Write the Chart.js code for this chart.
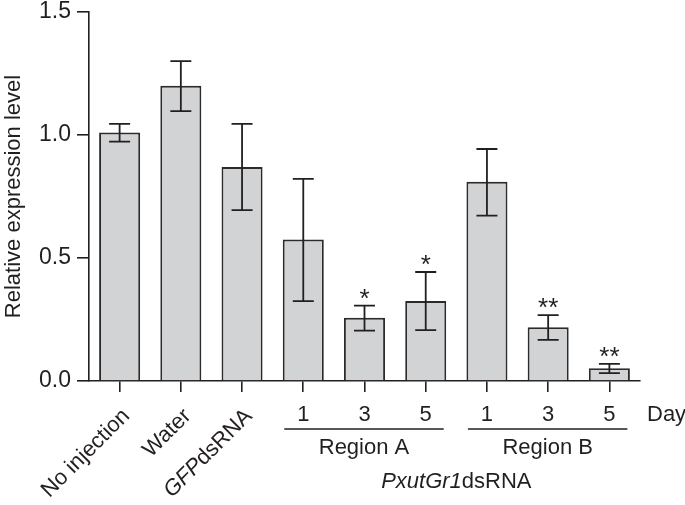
<!DOCTYPE html>
<html>
<head>
<meta charset="utf-8">
<script src="https://cdn.jsdelivr.net/npm/chart.js@4"></script>
<style>
  body { margin: 0; background: #fff; }
</style>
</head>
<body>
<canvas id="expr" width="685" height="505"></canvas>
<script>
// Data
const categories = ['No injection', 'Water', 'GFP dsRNA', '1', '3', '5', '1', '3', '5'];
const means   = [1.01, 1.20, 0.87, 0.575, 0.257, 0.325, 0.81, 0.218, 0.052];
const errHigh = [1.045, 1.30, 1.045, 0.822, 0.306, 0.443, 0.943, 0.268, 0.070];
const errLow  = [0.973, 1.097, 0.695, 0.325, 0.205, 0.207, 0.672, 0.167, 0.032];
const stars   = ['', '', '', '', '*', '*', '', '**', '**'];
const yTicks  = [0, 0.5, 1.0, 1.5];
const regionNames = ['Region A', 'Region B'];
const regionIdx   = [[3, 5], [6, 8]];

const ink = '#231f20';
const font = 'Liberation Sans, Arial, Helvetica, sans-serif';

// error bars + significance stars
const errorBars = {
  id: 'errorBars',
  afterDatasetsDraw(chart) {
    const { ctx, scales: { x, y } } = chart;
    ctx.save();
    ctx.strokeStyle = ink;
    ctx.lineWidth = 1.8;
    ctx.fillStyle = ink;
    ctx.font = '26px ' + font;
    ctx.textAlign = 'center';
    ctx.textBaseline = 'alphabetic';
    means.forEach((m, i) => {
      const cx = x.getPixelForValue(i);
      const hi = y.getPixelForValue(errHigh[i]);
      const lo = y.getPixelForValue(errLow[i]);
      ctx.beginPath();
      ctx.moveTo(cx, hi); ctx.lineTo(cx, lo);
      ctx.moveTo(cx - 10.5, hi); ctx.lineTo(cx + 10.5, hi);
      ctx.moveTo(cx - 10.5, lo); ctx.lineTo(cx + 10.5, lo);
      ctx.stroke();
      if (stars[i]) {
        ctx.fillText(stars[i], cx, hi + 1);
      }
    });
    ctx.restore();
  }
};

// category labels: rotated names, day numbers, region brackets
const xLabels = {
  id: 'xLabels',
  afterDraw(chart) {
    const { ctx, scales: { x } } = chart;
    const reg = '22px ' + font;
    const ita = 'italic 22px ' + font;
    ctx.save();
    ctx.fillStyle = ink;
    ctx.strokeStyle = ink;

    // rotated labels for the first three bars
    const rotated = [
      [[categories[0], reg]],
      [[categories[1], reg]],
      [['GFP', ita], ['dsRNA', reg]]
    ];
    rotated.forEach((parts, i) => {
      const cx = x.getPixelForValue(i);
      let total = 0;
      parts.forEach(([t, f]) => { ctx.font = f; total += ctx.measureText(t).width; });
      ctx.save();
      ctx.translate(cx - 1, 405);
      ctx.rotate(-Math.PI / 4);
      ctx.textAlign = 'left';
      ctx.textBaseline = 'top';
      let px = -total;
      parts.forEach(([t, f]) => {
        ctx.font = f;
        ctx.fillText(t, px, 0);
        px += ctx.measureText(t).width;
      });
      ctx.restore();
    });

    // day numbers
    ctx.font = reg;
    ctx.textBaseline = 'middle';
    ctx.textAlign = 'center';
    for (let i = 3; i < categories.length; i++) {
      ctx.fillText(categories[i], x.getPixelForValue(i), 415);
    }
    ctx.textAlign = 'left';
    ctx.fillText('Day', 647, 415);

    // region brackets
    ctx.lineWidth = 1.6;
    regionIdx.forEach(([a, b], k) => {
      const x0 = x.getPixelForValue(a) - 19;
      const x1 = x.getPixelForValue(b) + 18;
      ctx.beginPath();
      ctx.moveTo(x0, 429); ctx.lineTo(x1, 429);
      ctx.stroke();
      ctx.textAlign = 'center';
      ctx.fillText(regionNames[k], (x0 + x1) / 2, 448);
    });

    // PxutGr1dsRNA
    const mid = (x.getPixelForValue(3) + x.getPixelForValue(8)) / 2;
    ctx.font = ita;
    const w1 = ctx.measureText('PxutGr1').width;
    ctx.font = reg;
    const w2 = ctx.measureText('dsRNA').width;
    ctx.textAlign = 'left';
    ctx.font = ita;
    ctx.fillText('PxutGr1', mid - (w1 + w2) / 2, 482);
    ctx.font = reg;
    ctx.fillText('dsRNA', mid - (w1 + w2) / 2 + w1, 482);
    ctx.restore();
  }
};

new Chart(
  document.getElementById('expr'),
  {
    type: 'bar',
    data: {
      labels: categories,
      datasets: [
        {
          data: means,
          backgroundColor: '#d2d3d5',
          borderColor: '#2b2b2b',
          borderWidth: 1.9,
          barPercentage: 0.67,
          categoryPercentage: 1.0
        }
      ]
    },
    options: {
      responsive: false,
      animation: false,
      layout: { padding: { top: 0, right: 45, left: 0, bottom: 0 } },
      plugins: {
        legend: { display: false },
        tooltip: { enabled: false }
      },
      scales: {
        x: {
          offset: true,
          grid: {
            offset: false,
            drawOnChartArea: false,
            color: ink,
            lineWidth: 1.6,
            tickLength: 11
          },
          border: { color: ink, width: 1.6 },
          ticks: { display: false },
          afterFit(scale) { scale.height = 124; }
        },
        y: {
          min: 0,
          max: 1.5,
          afterBuildTicks(scale) { scale.ticks = yTicks.map(v => ({ value: v })); },
          grid: {
            drawOnChartArea: false,
            color: ink,
            lineWidth: 1.6,
            tickLength: 12
          },
          border: { color: ink, width: 1.6 },
          ticks: {
            color: ink,
            padding: 6,
            font: { family: font, size: 23 },
            callback: v => v.toFixed(1)
          },
          title: {
            display: true,
            text: 'Relative expression level',
            color: ink,
            font: { family: font, size: 22 },
            padding: 1
          },
          afterFit(scale) {
            scale.width = 89;
            scale.paddingTop = 12;
            scale.paddingBottom = 0;
          }
        }
      }
    },
    plugins: [errorBars, xLabels]
  }
);
</script>
</body>
</html>
